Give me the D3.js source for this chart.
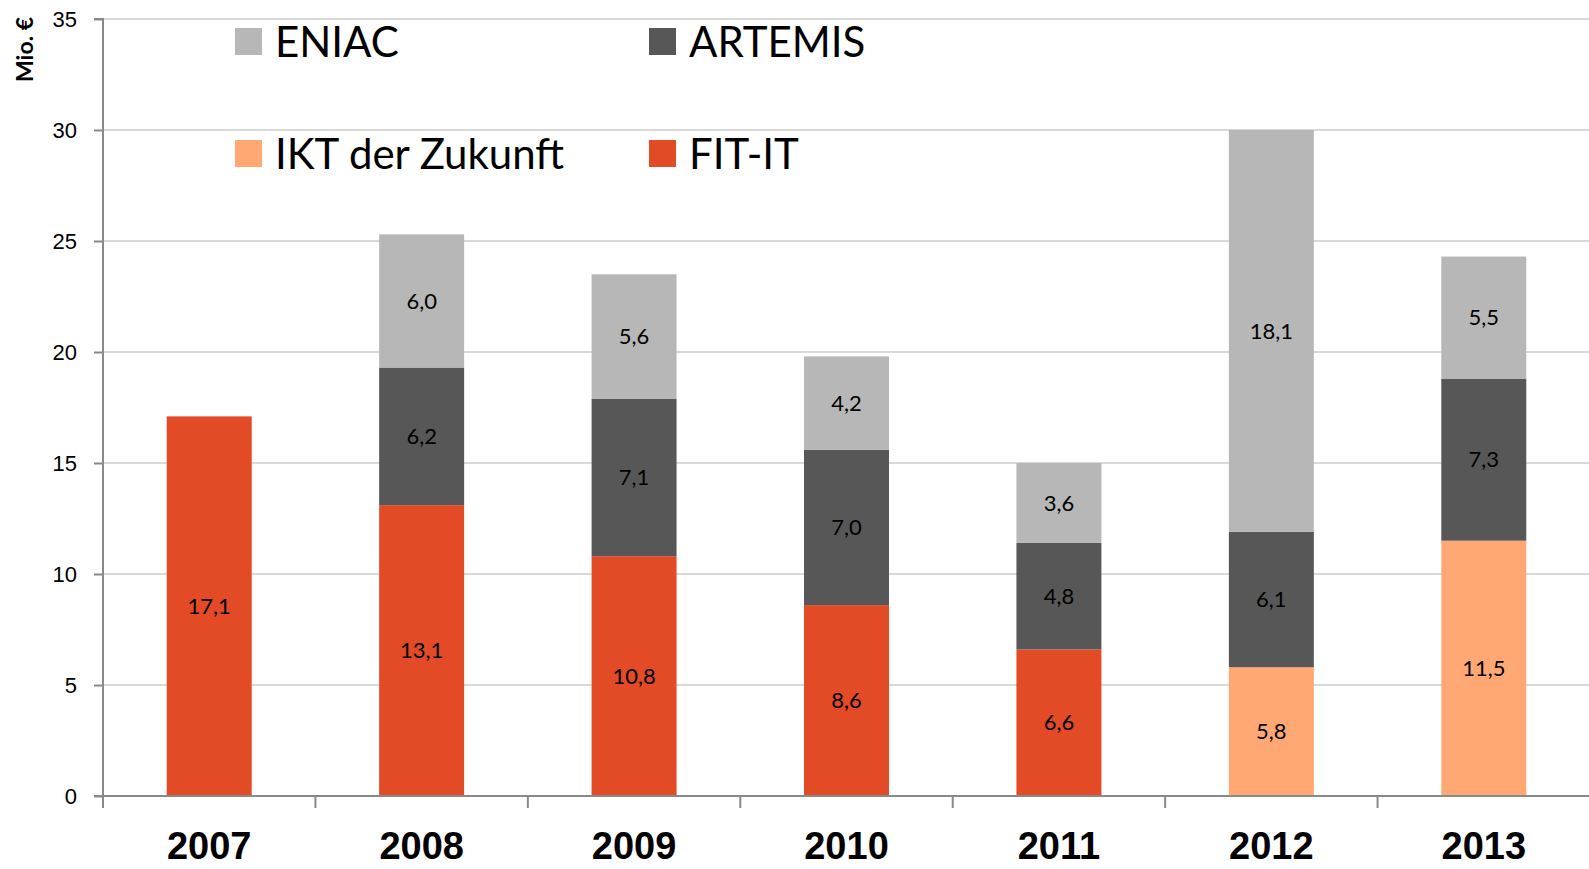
<!DOCTYPE html>
<html>
<head>
<meta charset="utf-8">
<script src="https://cdn.jsdelivr.net/npm/d3@7"></script>
<style>
  body { margin: 0; background: #fff; }
  svg { display: block; font-family: Lato, "Open Sans", sans-serif; }
</style>
</head>
<body>
<div id="chart"></div>
<script>
// years and series values (Mio. €)
const years = ["2007", "2008", "2009", "2010", "2011", "2012", "2013"];
const fitIt = [17.1, 13.1, 10.8, 8.6, 6.6, 0, 0];
const iktZukunft = [0, 0, 0, 0, 0, 5.8, 11.5];
const artemis = [0, 6.2, 7.1, 7.0, 4.8, 6.1, 7.3];
const eniac = [0, 6.0, 5.6, 4.2, 3.6, 18.1, 5.5];
const yTicks = [0, 5, 10, 15, 20, 25, 30, 35];

const keys = ["FIT-IT", "IKT der Zukunft", "ARTEMIS", "ENIAC"];
const colors = {
  "FIT-IT": "#e34a26",
  "IKT der Zukunft": "#ffa873",
  "ARTEMIS": "#575757",
  "ENIAC": "#b7b7b7"
};

const rows = years.map((y, i) => ({
  year: y,
  "FIT-IT": fitIt[i],
  "IKT der Zukunft": iktZukunft[i],
  "ARTEMIS": artemis[i],
  "ENIAC": eniac[i]
}));

const width = 1589, height = 869;
const plotLeft = 103, plotRight = 1590, plotTop = 19, plotBottom = 796;

const svg = d3.select("#chart").append("svg")
  .attr("width", width)
  .attr("height", height);

const x = d3.scaleBand().domain(years).range([plotLeft, plotRight])
  .paddingInner(0.6).paddingOuter(0.3);
const y = d3.scaleLinear().domain([0, 35]).range([plotBottom, plotTop]);

// gridlines
svg.append("g")
  .selectAll("line")
  .data(yTicks.filter(d => d > 0))
  .enter().append("line")
  .attr("x1", plotLeft).attr("x2", width)
  .attr("y1", d => y(d)).attr("y2", d => y(d))
  .attr("stroke", "#d9d9d9")
  .attr("stroke-width", 2);

// stacked bars
const series = d3.stack().keys(keys)(rows);

const layer = svg.append("g")
  .selectAll("g")
  .data(series)
  .enter().append("g")
  .attr("fill", d => colors[d.key]);

layer.selectAll("rect")
  .data(d => d.filter(s => s[1] - s[0] > 0))
  .enter().append("rect")
  .attr("x", d => x(d.data.year))
  .attr("width", x.bandwidth())
  .attr("y", d => y(d[1]))
  .attr("height", d => y(d[0]) - y(d[1]));

// value labels
layer.selectAll("text")
  .data(d => d.filter(s => s[1] - s[0] > 0))
  .enter().append("text")
  .attr("x", d => x(d.data.year) + x.bandwidth() / 2)
  .attr("y", d => y((d[0] + d[1]) / 2))
  .attr("dy", "0.35em")
  .attr("text-anchor", "middle")
  .attr("fill", "#000")
  .style("font-size", "22px")
  .text(d => d3.format(".1f")(d[1] - d[0]).replace(".", ","));

// y axis
const yAxis = svg.append("g")
  .attr("transform", `translate(${plotLeft},0)`)
  .call(d3.axisLeft(y).tickValues(yTicks).tickSize(9).tickPadding(17));
yAxis.select(".domain").attr("stroke", "#898989").attr("stroke-width", 2)
  .attr("d", `M-9,${plotTop}H0V${plotBottom + 12}`);
yAxis.selectAll(".tick line").attr("stroke", "#898989").attr("stroke-width", 2);
yAxis.selectAll(".tick text").style("font-size", "22px").attr("fill", "#000");

// x axis
const xAxis = svg.append("g")
  .attr("transform", `translate(0,${plotBottom})`)
  .call(d3.axisBottom(x).tickSize(0).tickPadding(36));
xAxis.select(".domain").attr("stroke", "#898989").attr("stroke-width", 2)
  .attr("d", `M${plotLeft - 9},0H${plotRight}`);
xAxis.selectAll(".tick text")
  .style("font-size", "38px").style("font-weight", "bold").attr("fill", "#000");

// tick marks between categories
svg.append("g")
  .selectAll("line")
  .data(years)
  .enter().append("line")
  .attr("x1", (d, i) => plotLeft + x.step() * (i + 1))
  .attr("x2", (d, i) => plotLeft + x.step() * (i + 1))
  .attr("y1", plotBottom).attr("y2", plotBottom + 12)
  .attr("stroke", "#898989").attr("stroke-width", 2);

// y axis title
svg.append("text")
  .attr("transform", "translate(33,82) rotate(-90)")
  .style("font-size", "23px").style("font-weight", "bold")
  .text("Mio. €");

// legend
const legendItems = [
  { key: "ENIAC", x: 235, y: 28 },
  { key: "ARTEMIS", x: 649, y: 28 },
  { key: "IKT der Zukunft", x: 235, y: 140 },
  { key: "FIT-IT", x: 649, y: 140 }
];
const legend = svg.append("g")
  .selectAll("g")
  .data(legendItems)
  .enter().append("g")
  .attr("transform", d => `translate(${d.x},${d.y})`);
legend.append("rect")
  .attr("width", 27).attr("height", 27)
  .attr("fill", d => colors[d.key]);
legend.append("text")
  .attr("x", 40).attr("y", 29)
  .style("font-size", "42px")
  .text(d => d.key);
</script>
</body>
</html>
